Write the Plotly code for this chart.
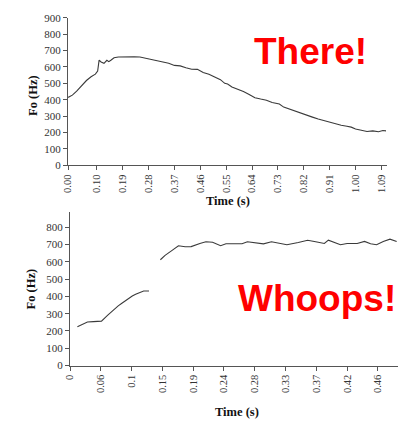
import plotly.graph_objects as go

# Upper panel: fundamental frequency contour (continuous)
t_top = [0.000, 0.015, 0.030, 0.045, 0.064, 0.080, 0.095, 0.103, 0.108, 0.115, 0.125,
         0.135, 0.142, 0.150, 0.160, 0.175, 0.190, 0.210, 0.230, 0.250, 0.270, 0.290,
         0.310, 0.330, 0.350, 0.370, 0.390, 0.410, 0.430, 0.450, 0.470, 0.490, 0.510,
         0.530, 0.545, 0.555, 0.570, 0.590, 0.610, 0.630, 0.650, 0.670, 0.690, 0.710,
         0.725, 0.735, 0.750, 0.770, 0.790, 0.810, 0.830, 0.850, 0.870, 0.890, 0.910,
         0.930, 0.950, 0.970, 0.985, 1.000, 1.020, 1.040, 1.060, 1.080, 1.095, 1.106]
f_top = [414, 428, 452, 480, 517, 540, 556, 575, 641, 630, 622,
         640, 632, 642, 656, 660, 661, 661, 661, 660, 652, 645,
         636, 626, 622, 609, 606, 595, 586, 585, 566, 555, 540,
         522, 500, 496, 478, 466, 450, 432, 412, 404, 397, 383,
         378, 374, 355, 342, 330, 316, 303, 294, 282, 272, 262,
         255, 244, 238, 233, 222, 212, 206, 210, 205, 212, 210]

# Lower panel: contour with a voicing break
t_low_a = [0.011, 0.018, 0.026, 0.035, 0.047, 0.056, 0.066, 0.072, 0.078, 0.083,
           0.088, 0.093, 0.098, 0.104, 0.110, 0.118]
f_low_a = [225, 238, 252, 254, 257, 290, 328, 345, 362, 375,
           393, 402, 412, 422, 431, 431]
t_low_b = [0.135, 0.142, 0.152, 0.162, 0.172, 0.181, 0.194, 0.203, 0.213, 0.225,
           0.233, 0.245, 0.257, 0.265, 0.277, 0.289, 0.301, 0.312, 0.324, 0.341,
           0.355, 0.367, 0.380, 0.386, 0.394, 0.404, 0.414, 0.429, 0.440, 0.449,
           0.458, 0.468, 0.478, 0.488]
f_low_b = [612, 637, 665, 693, 687, 688, 706, 716, 713, 693,
           704, 704, 704, 716, 710, 704, 716, 708, 699, 712,
           725, 716, 706, 725, 712, 699, 706, 706, 718, 704,
           699, 718, 731, 718]

top_ticks = ["0.00", "0.10", "0.19", "0.28", "0.37", "0.46", "0.55", "0.64",
             "0.73", "0.82", "0.91", "1.00", "1.09"]
low_ticks = ["0", "0.06", "0.1", "0.15", "0.19", "0.24", "0.28", "0.33",
             "0.37", "0.42", "0.46"]
low_tick_step = 0.046

W, H = 398, 425
serif = "Liberation Serif, Times New Roman, serif"
line_col = "#3a3a3a"

fig = go.Figure()
fig.add_trace(go.Scatter(x=t_top, y=f_top, mode="lines",
                         line=dict(color=line_col, width=1.1),
                         xaxis="x", yaxis="y", showlegend=False))
fig.add_trace(go.Scatter(x=t_low_a, y=f_low_a, mode="lines",
                         line=dict(color=line_col, width=1.1),
                         xaxis="x2", yaxis="y2", showlegend=False))
fig.add_trace(go.Scatter(x=t_low_b, y=f_low_b, mode="lines",
                         line=dict(color=line_col, width=1.1),
                         xaxis="x2", yaxis="y2", showlegend=False))

axis_common = dict(showgrid=False, zeroline=False, showline=True,
                   linecolor="#555555", linewidth=1, ticks="outside",
                   ticklen=4, tickcolor="#555555",
                   tickfont=dict(family=serif, size=11, color="#333333"))

fig.update_layout(
    width=W, height=H,
    margin=dict(l=0, r=0, t=0, b=0),
    paper_bgcolor="white", plot_bgcolor="white",
    xaxis=dict(axis_common, domain=[63 / W, 387 / W], range=[0, 1.11],
               anchor="y", tickmode="array",
               tickvals=[float(s) for s in top_ticks], ticktext=top_ticks,
               tickangle=-90, tickfont=dict(family=serif, size=10.5, color="#333333")),
    yaxis=dict(axis_common, domain=[1 - 164 / H, 1 - 12 / H], range=[0, 900],
               anchor="x", tickmode="linear", tick0=0, dtick=100),
    xaxis2=dict(axis_common, domain=[65 / W, 1.0], range=[0, 0.49],
                anchor="y2", tickmode="array",
                tickvals=[i * low_tick_step for i in range(len(low_ticks))],
                ticktext=low_ticks, tickangle=-90,
                tickfont=dict(family=serif, size=10.5, color="#333333")),
    yaxis2=dict(axis_common, domain=[1 - 370 / H, 1 - 212 / H], range=[0, 888],
                anchor="x2", tickmode="linear", tick0=0, dtick=100),
)

title_font = dict(family=serif, size=12.5, color="#111111")
annotations = [
    dict(text="<b>Fo (Hz)</b>", x=28 / W, y=1 - 92 / H, textangle=-90, font=title_font),
    dict(text="<b>Time (s)</b>", x=225 / W, y=1 - 201 / H, font=title_font),
    dict(text="<b>Fo (Hz)</b>", x=25 / W, y=1 - 291 / H, textangle=-90, font=title_font),
    dict(text="<b>Time (s)</b>", x=235 / W, y=1 - 418 / H, font=title_font),
    dict(text="<b>There!</b>", x=309 / W, y=1 - 47 / H,
         font=dict(family="Liberation Sans, Arial, sans-serif", size=37, color="#ff0000")),
    dict(text="<b>Whoops!</b>", x=316 / W, y=1 - 301 / H,
         font=dict(family="Liberation Sans, Arial, sans-serif", size=37, color="#ff0000")),
]
for a in annotations:
    a.update(xref="paper", yref="paper", showarrow=False, xanchor="center", yanchor="middle")
fig.update_layout(annotations=annotations)

fig.write_html("out.html")
